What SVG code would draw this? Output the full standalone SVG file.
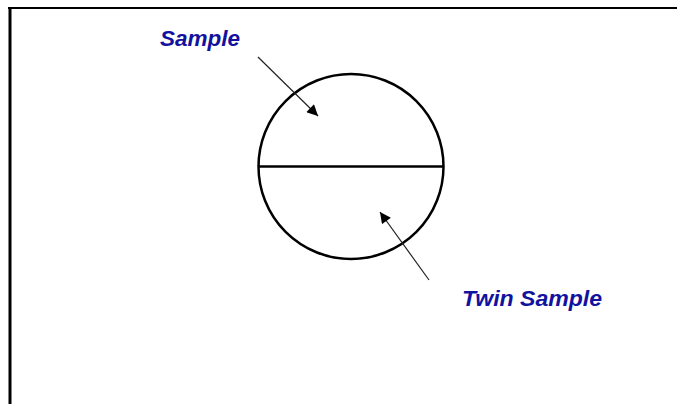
<svg xmlns="http://www.w3.org/2000/svg" width="677" height="404" viewBox="0 0 677 404">
<style>
.lbl{font-family:"Liberation Sans",Arial,sans-serif;font-size:22px;font-style:italic;font-weight:bold;fill:#12129e}
.shape{fill:none;stroke:#000;stroke-width:2.5}
.conn{stroke:#222;stroke-width:1.2;fill:none}
</style>
<defs>
<marker id="ah" viewBox="0 0 10 10" refX="10" refY="5" markerWidth="12" markerHeight="11" markerUnits="userSpaceOnUse" orient="auto">
<path d="M0,0 L10,5 L0,10 Z" fill="#000"/>
</marker>
</defs>
<rect width="677" height="404" fill="#fff"/>
<g id="frame">
<line x1="8" y1="8" x2="677" y2="8" stroke="#000" stroke-width="2"/>
<line x1="10" y1="7" x2="10" y2="404" stroke="#000" stroke-width="3"/>
</g>
<g id="circle">
<circle class="shape" cx="351" cy="166.5" r="92.5"/>
<line class="shape" x1="258.5" y1="166.5" x2="443.5" y2="166.5"/>
</g>
<g id="sample">
<text class="lbl" x="160" y="46" textLength="80" lengthAdjust="spacingAndGlyphs">Sample</text>
</g>
<g id="twin-sample">
<text class="lbl" x="462" y="306" textLength="140" lengthAdjust="spacingAndGlyphs">Twin Sample</text>
</g>
<g id="connectors">
<line class="conn" x1="258" y1="57" x2="318" y2="116" marker-end="url(#ah)"/>
<line class="conn" x1="429" y1="280" x2="380" y2="212" marker-end="url(#ah)"/>
</g>
</svg>
